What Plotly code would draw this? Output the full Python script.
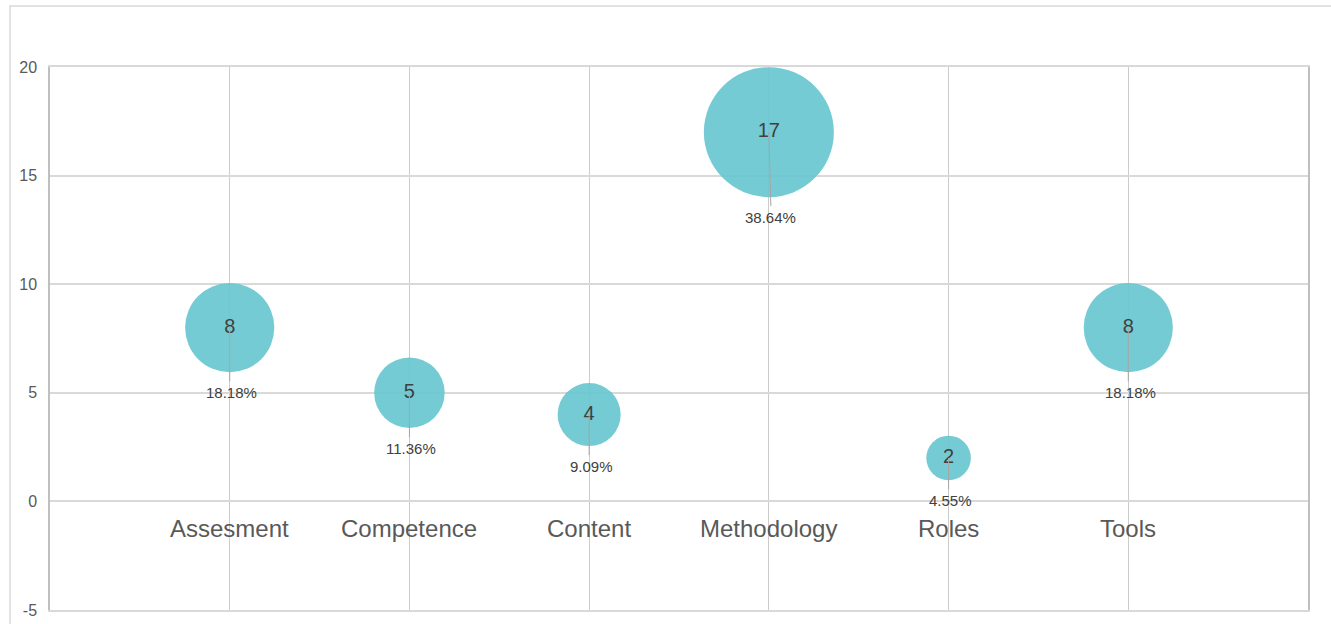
import math
import plotly.graph_objects as go

# Counts per theme and their share of the total
categories = ["Assesment", "Competence", "Content", "Methodology", "Roles", "Tools"]
counts = [8, 5, 4, 17, 2, 8]
shares = ["18.18%", "11.36%", "9.09%", "38.64%", "4.55%", "18.18%"]
y_ticks = [-5, 0, 5, 10, 15, 20]
y_tick_labels = ["-5", "0", "5", "10", "15", "20"]

positions = list(range(1, len(categories) + 1))
max_diam = 130
diams = [max_diam * math.sqrt(c / max(counts)) for c in counts]

W, H = 1331, 624
ML, MR, MT, MB = 50, 23, 67, 14
PW, PH = W - ML - MR, H - MT - MB

font_family = "Liberation Sans, Arial, sans-serif"
bubble_color = "rgba(104,199,208,0.92)"

fig = go.Figure()

# bubbles with the count in the middle
fig.add_trace(go.Scatter(
    x=positions, y=counts, mode="markers+text",
    marker=dict(size=diams, sizemode="diameter", color=bubble_color,
                opacity=1, line=dict(width=0)),
    text=[str(c) for c in counts], textposition="middle center",
    textfont=dict(family=font_family, size=20, color="#404040"),
    hoverinfo="skip", showlegend=False, cliponaxis=False,
))

shapes = []
# leader lines from bubble centre towards its share label
for p, c, d in zip(positions, counts, diams):
    shapes.append(dict(
        type="line", xref="x", yref="y",
        xsizemode="pixel", xanchor=p, x0=0, x1=2 if c == max(counts) else 0,
        ysizemode="pixel", yanchor=c, y0=0, y1=-(d / 2 + 9),
        line=dict(color="#a6a6a6", width=1), layer="above",
    ))

# outer chart frame
shapes.append(dict(
    type="rect", xref="paper", yref="paper",
    x0=(10 - ML) / PW, x1=(W + 5 - ML) / PW,
    y0=-(30) / PH, y1=(H - MB - 6) / PH,
    line=dict(color="#d9d9d9", width=1.5), fillcolor="rgba(0,0,0,0)", layer="below",
))

# share labels just under each bubble
annotations = [
    dict(x=p, y=c, xref="x", yref="y", text=s, showarrow=False,
         yanchor="middle", yshift=-(d / 2 + 20), xshift=2,
         font=dict(family=font_family, size=15, color="#404040"))
    for p, c, d, s in zip(positions, counts, diams, shares)
]

# category names sit just under the zero line
annotations += [
    dict(x=p, y=0, xref="x", yref="y", text=cat, showarrow=False,
         yanchor="top", yshift=-12,
         font=dict(family=font_family, size=24, color="#595959"))
    for p, cat in zip(positions, categories)
]

fig.update_layout(
    width=W, height=H,
    margin=dict(l=ML, r=MR, t=MT, b=MB, autoexpand=False),
    paper_bgcolor="white", plot_bgcolor="white",
    shapes=shapes, annotations=annotations,
    xaxis=dict(
        range=[0, len(categories) + 1], tickvals=positions, showticklabels=False,
        showgrid=True, gridcolor="#cccccc", gridwidth=1, zeroline=False, automargin=False,
        showline=True, linecolor="#d9d9d9", linewidth=1.5, mirror=True, ticks="",
    ),
    yaxis=dict(
        range=[-5, 20], tickvals=y_ticks, ticktext=y_tick_labels,
        showgrid=True, gridcolor="#d9d9d9", gridwidth=1.5,
        zeroline=False, showline=True, linecolor="#bfbfbf", linewidth=1.5, mirror=True,
        ticks="", ticklabelstandoff=8, automargin=False,
        tickfont=dict(family=font_family, size=16, color="#595959"),
    ),
)

fig.write_html("out.html")
